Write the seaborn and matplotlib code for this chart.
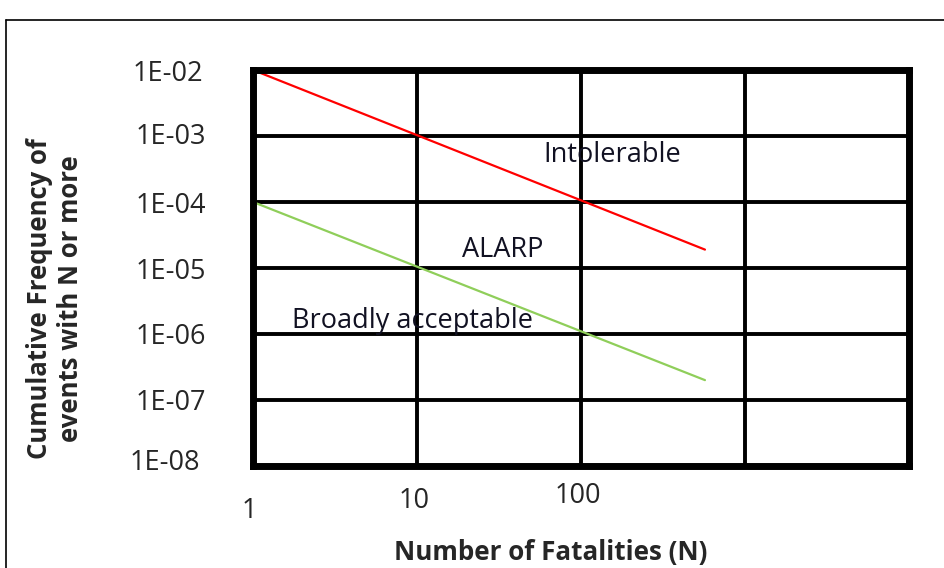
import matplotlib
matplotlib.use("Agg")
import matplotlib.pyplot as plt
import matplotlib.transforms as mtransforms
from matplotlib.lines import Line2D
import pandas as pd
import seaborn as sns

# F-N criterion lines (frequency of N or more fatalities per year)
fatalities = [1, 570]
intolerable_line = [1e-2, 1.9e-5]
acceptable_line = [1e-4, 2.0e-7]

x_ticks = [1, 10, 100, 1000, 10000]
x_tick_labels = ["1", "10", "100", "", ""]
y_ticks = [1e-8, 1e-7, 1e-6, 1e-5, 1e-4, 1e-3, 1e-2]
y_tick_labels = ["1E-08", "1E-07", "1E-06", "1E-05", "1E-04", "1E-03", "1E-02"]

region_labels = ["Intolerable", "ALARP", "Broadly acceptable"]
region_x = [58.7, 18.8, 1.73]
region_y = [4.0e-4, 1.47e-5, 1.23e-6]

df = pd.concat([
    pd.DataFrame({"N": fatalities, "F": intolerable_line, "line": "upper"}),
    pd.DataFrame({"N": fatalities, "F": acceptable_line, "line": "lower"}),
])

sns.set_style("white")
plt.rcParams["font.family"] = ["Open Sans", "DejaVu Sans"]

W, H = 944, 568
fig = plt.figure(figsize=(W / 100, H / 100), dpi=100)
ax = fig.add_axes([253 / W, 1 - 466 / H, (909 - 253) / W, (466 - 70) / H])

sns.lineplot(data=df, x="N", y="F", hue="line",
             palette={"upper": "#ff0000", "lower": "#8fce5a"},
             linewidth=1.6, legend=False, ax=ax, zorder=5)

ax.set_xscale("log")
ax.set_yscale("log")
ax.set_xlim(1, 10000)
ax.set_ylim(1e-8, 1e-2)
ax.set_xticks(x_ticks, x_tick_labels)
ax.set_yticks(y_ticks, y_tick_labels)
ax.minorticks_off()
ax.tick_params(length=0)
ax.tick_params(axis="y", pad=34, labelsize=19.5)
ax.tick_params(axis="x", pad=17.5, labelsize=19.5)


def shift(label, dx, dy):
    label.set_transform(label.get_transform() +
                        mtransforms.ScaledTranslation(dx / 72, dy / 72, fig.dpi_scale_trans))


# Staggered tick label offsets (points)
for lab, (dx, dy) in zip(ax.get_xticklabels(),
                         [(-3, -4.5), (-2, 2.2), (-2, 5.8), (0, 0), (0, 0)]):
    shift(lab, dx, dy)
for lab, (dx, dy) in zip(ax.get_yticklabels(),
                         [(-4, 5), (0, 0), (0, 0), (0, 0), (0, 0), (0, 1.5), (-2, 0)]):
    shift(lab, dx, dy)

ax.grid(True, which="major", color="black", linewidth=2.8)
for side in ax.spines.values():
    side.set_visible(True)
    side.set_color("black")
    side.set_linewidth(5.0)
    side.set_zorder(6)
ax.set_axisbelow(True)

ax.set_xlabel("Number of Fatalities (N)", fontsize=18.7, fontweight="bold")
ax.xaxis.set_label_coords((551 - 253) / 656, (466 - 539) / 396)
ax.set_ylabel("Cumulative Frequency of\nevents with N or more", fontsize=18.5,
              fontweight="bold", linespacing=1.2)
ax.yaxis.set_label_coords((84 - 253) / 656, (466 - 299) / 396)

for txt, xv, yv in zip(region_labels, region_x, region_y):
    ax.text(xv, yv, txt, fontsize=19.5, color="#111122", ha="left", va="baseline", zorder=7)

# Outer frame of the figure
fig.add_artist(Line2D([6 / W, 6 / W], [0, 1 - 20 / H], color="black", linewidth=1.2,
                      transform=fig.transFigure))
fig.add_artist(Line2D([6 / W, 1], [1 - 20 / H, 1 - 20 / H], color="black", linewidth=1.2,
                      transform=fig.transFigure))

fig.savefig("out.png", dpi=100)
